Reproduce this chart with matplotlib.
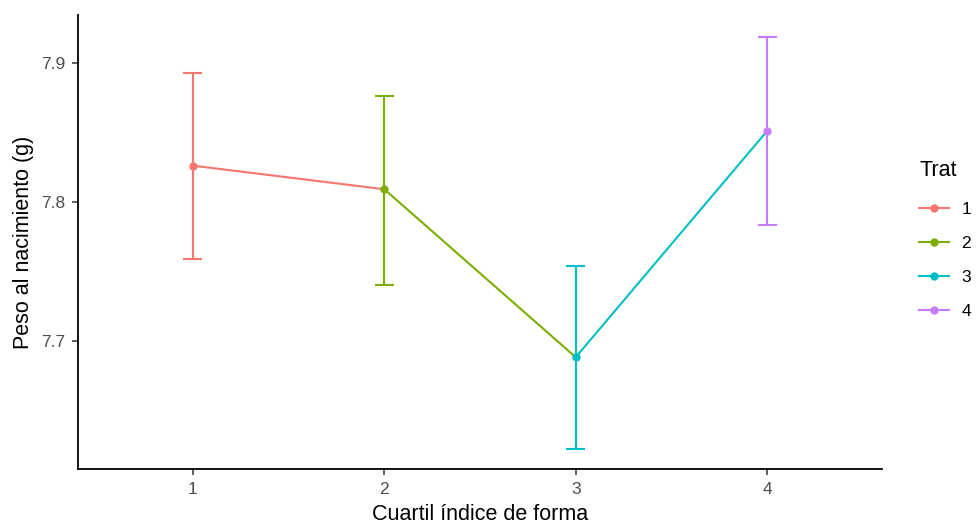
import matplotlib
matplotlib.use("Agg")
import matplotlib.pyplot as plt
from matplotlib.lines import Line2D

plt.rcParams['font.family'] = ['Liberation Sans', 'DejaVu Sans']

# Mean birth weight by shape-index quartile, with error bar limits
cuartil = [1, 2, 3, 4]
trat = ["1", "2", "3", "4"]
peso = [7.826, 7.809, 7.688, 7.851]
peso_min = [7.759, 7.740, 7.622, 7.783]
peso_max = [7.893, 7.876, 7.754, 7.919]
colores = ["#F8766D", "#7CAE00", "#00BFC4", "#C77CFF"]
y_ticks = [7.7, 7.8, 7.9]

fig = plt.figure(figsize=(9.77, 5.25), dpi=100)
ax = fig.add_axes([78/977, (525-469)/525, (882-78)/977, (469-15)/525])

lw = 1.5
# connecting path, each segment coloured by its starting group
for i in range(len(cuartil) - 1):
    ax.plot(cuartil[i:i+2], peso[i:i+2], color=colores[i], lw=lw,
            solid_capstyle='butt', zorder=2)

for x, y, lo, hi, c in zip(cuartil, peso, peso_min, peso_max, colores):
    ax.vlines(x, lo, hi, color=c, lw=lw, zorder=3)
    ax.hlines([lo, hi], x - 0.05, x + 0.05, color=c, lw=lw, zorder=3)
    ax.plot([x], [y], 'o', color=c, ms=6, mec='none', zorder=4)

ax.set_xlim(0.4, 4.6)
ax.set_ylim(7.6075, 7.9345)
ax.set_xticks(cuartil)
ax.set_xticklabels([str(v) for v in cuartil])
ax.set_yticks(y_ticks)
ax.set_yticklabels([f"{v:.1f}" for v in y_ticks])

for s in ['top', 'right']:
    ax.spines[s].set_visible(False)
for s in ['left', 'bottom']:
    ax.spines[s].set_linewidth(1.3)
    ax.spines[s].set_color('black')
ax.tick_params(axis='both', length=4, width=1.1, color='#333333',
               labelcolor='#4D4D4D', labelsize=12.5)
ax.tick_params(axis='x', pad=5.5)
ax.tick_params(axis='y', pad=5)

ax.set_xlabel("Cuartil índice de forma", fontsize=15.5, color='black', labelpad=5)
ax.set_ylabel("Peso al nacimiento (g)", fontsize=15.5, color='black', labelpad=5)

handles = [Line2D([0], [0], color=c, lw=lw, marker='o', ms=6, mec='none')
           for c in colores]
leg = ax.legend(handles, trat, title="Trat", loc='upper left',
                bbox_to_anchor=(919/977, 1 - 160/525), bbox_transform=fig.transFigure,
                frameon=False, fontsize=12.5, title_fontsize=15.5,
                handlelength=1.7, handletextpad=0.75, labelspacing=1.08,
                borderaxespad=0, borderpad=0)
leg._legend_box.align = "left"
leg._legend_box.sep = 15

fig.savefig("out.png", dpi=100)
